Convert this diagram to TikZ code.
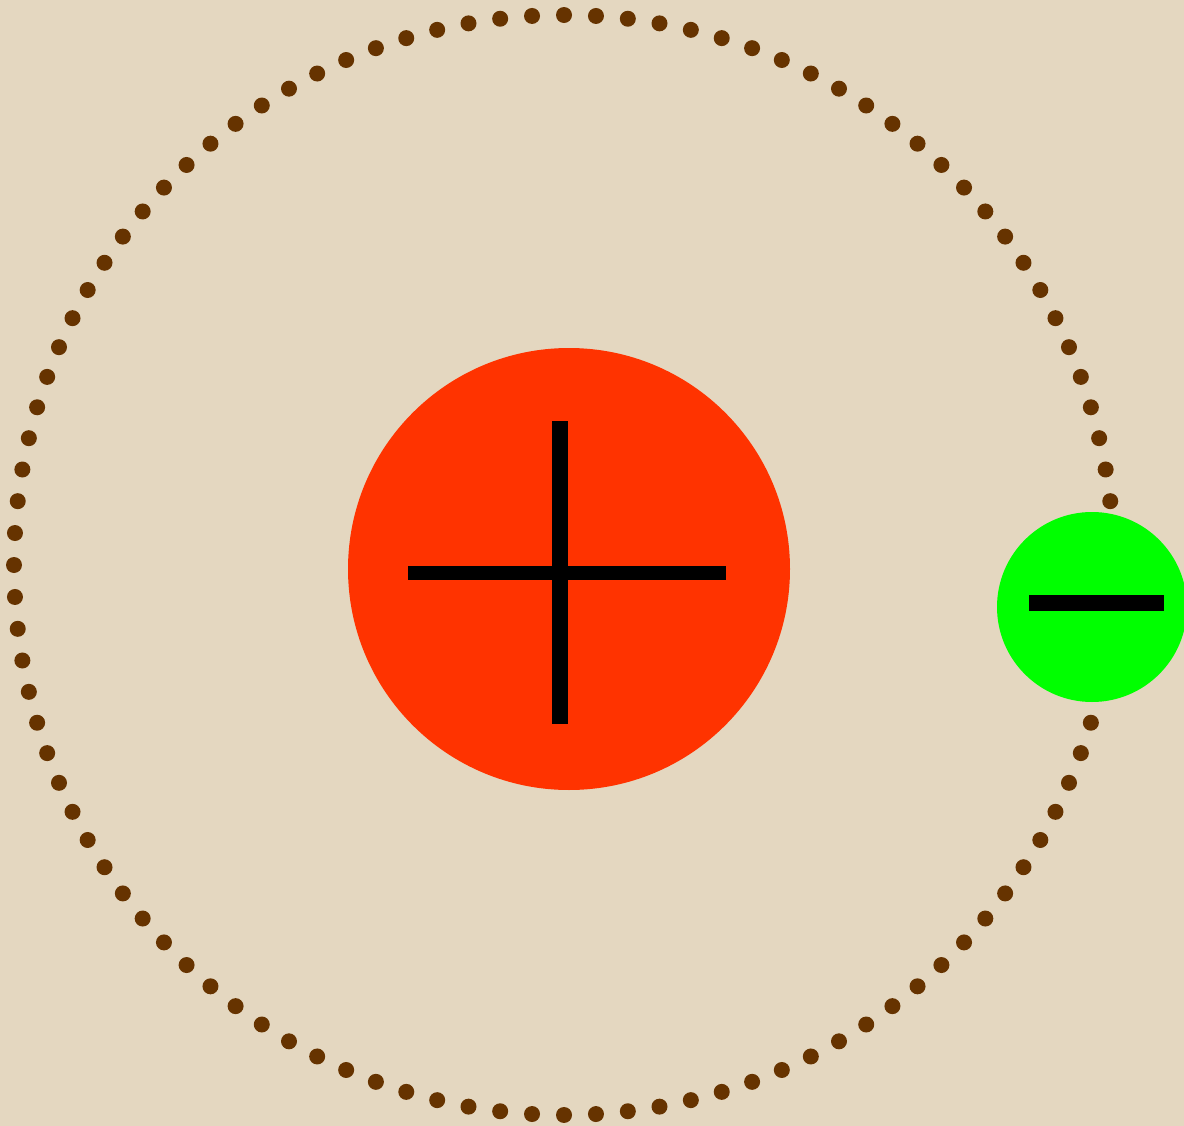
\documentclass[tikz,border=0pt]{standalone}
\usepackage{tikz}
\usetikzlibrary{calc}
\definecolor{bgbeige}{HTML}{E4D7C0}
\definecolor{dotbrown}{HTML}{663300}
\definecolor{nucred}{HTML}{FF3300}
\definecolor{elgreen}{HTML}{00FF00}
\tikzset{
  orbitdot/.style={fill=dotbrown, draw=none},
  bar/.style={fill=black, draw=none}
}
\begin{document}
\begin{tikzpicture}[x=1pt,y=-1pt]
\fill[bgbeige] (0,0) rectangle (1184,1126);
\useasboundingbox (0,0) rectangle (1184,1126);
\clip (0,0) rectangle (1184,1126);
\coordinate (c) at (564,565);
\foreach \i in {0,...,107}{
  \pgfmathsetmacro{\ang}{180+\i*3.33333}
  \fill[orbitdot] ($(c)+(\ang:550)$) circle (8);
}
\node[circle, fill=nucred, minimum size=442pt, inner sep=0pt] (nucleus) at (569,569) {};
\fill[bar] (552,421) rectangle (568,724);
\fill[bar] (408,566) rectangle (726,580);
\node[circle, fill=elgreen, minimum size=190pt, inner sep=0pt] (electron) at (1092,607) {};
\fill[bar] (1029,595) rectangle (1164,611);
\end{tikzpicture}
\end{document}
